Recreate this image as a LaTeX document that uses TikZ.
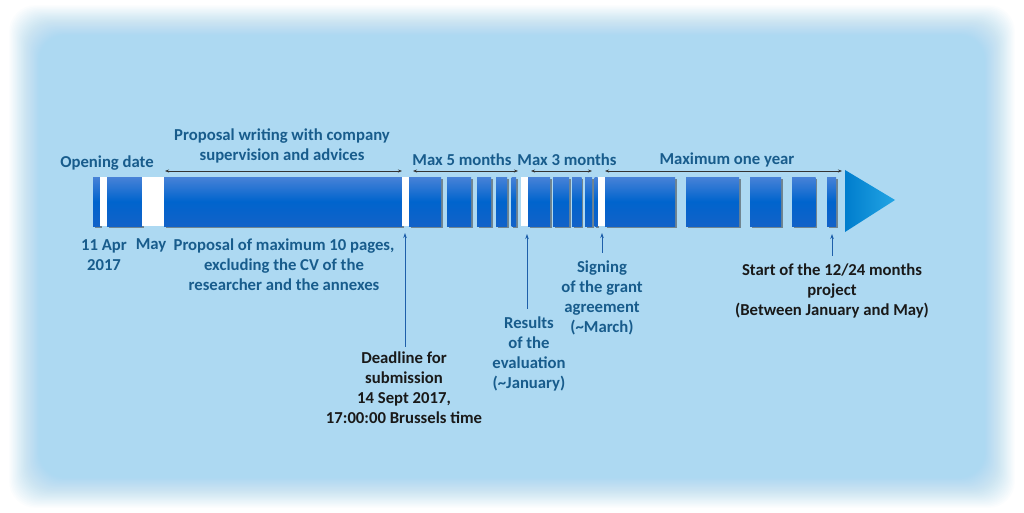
\documentclass[tikz,border=0pt]{standalone}
\usepackage{fontspec}
\setmainfont{Carlito}
\usetikzlibrary{arrows.meta,shadows}
\definecolor{bgblue}{RGB}{173,217,242}
\definecolor{segtop}{RGB}{72,130,215}
\definecolor{segmid}{RGB}{0,100,205}
\definecolor{segbot}{RGB}{18,98,200}
\definecolor{lblue}{RGB}{24,92,140}
\definecolor{arblue}{RGB}{30,95,170}
\definecolor{trileft}{RGB}{0,125,205}
\definecolor{triright}{RGB}{35,165,228}
\tikzset{
  lbl/.style={font=\bfseries\fontsize{16.7}{20}\selectfont, align=center, inner sep=2pt},
  bluelbl/.style={lbl, text=lblue},
  blacklbl/.style={lbl, text=black!90},
  seg/.style={top color=segtop, bottom color=segbot, middle color=segmid,
     drop shadow={shadow xshift=1.5pt, shadow yshift=-1.5pt, opacity=0.55, fill=black!75}},
  wseg/.style={fill=white},
  span/.style={draw=black!80, line width=0.7pt, {Stealth[length=4pt,width=3pt]}-{Stealth[length=4pt,width=3pt]}},
  uparrow/.style={draw=arblue, line width=0.8pt, -{Stealth[length=5pt,width=3.5pt]}}
}
\begin{document}
\begin{tikzpicture}[x=1pt,y=-1pt]
\useasboundingbox (0,0) rectangle (1024,513);
\fill[white] (0,0) rectangle (1024,513);
% soft background: linear fade from white to blue
\foreach \i in {1,...,24} {
  \pgfmathsetmacro{\op}{1/(25-\i)}
  \pgfmathsetmacro{\d}{1.3*\i}
  \fill[bgblue, opacity=\op, rounded corners=26] (8+\d, 4+\d) rectangle (1016-\d, 509-\d);
}
% bar segments
\foreach \a/\b in {93/100,107/142,164/402,409/441,447/471,477/491,496/507,511.5/516,528/550,553/569,572/581.5,585/592,594.5/597.5,605/675,686/739,750/781,792/815.7,827/836} {
  \path[seg] (\a,177) rectangle (\b,226);
}
\foreach \a/\b in {100/107,142/164,402/409,521/528,598/604.5} {
  \fill[wseg] (\a,177) rectangle (\b,226);
}
% arrowhead of the timeline
\shade[left color=trileft, right color=triright] (845,170) -- (895,200) -- (845,232) -- cycle;
% spans
\coordinate (s1a) at (165,171); \coordinate (s1b) at (402,171);
\coordinate (s2a) at (413,171); \coordinate (s2b) at (518,171);
\coordinate (s3a) at (531,171); \coordinate (s3b) at (592,171);
\coordinate (s4a) at (605,171); \coordinate (s4b) at (842,171);
\draw[span] (s1a) -- (s1b);
\draw[span] (s2a) -- (s2b);
\draw[span] (s3a) -- (s3b);
\draw[span] (s4a) -- (s4b);
% top labels
\node[bluelbl] (opening) at (107,163) {Opening date};
\node[bluelbl] (writing) at (282,146) {Proposal writing with company\\supervision and advices};
\node[bluelbl] (max5) at (462,160) {Max 5 months};
\node[bluelbl] (max3) at (567,160) {Max 3 months};
\node[bluelbl] (maxyear) at (727,160) {Maximum one year};
% bottom labels
\node[bluelbl] (apr) at (104,255) {11 Apr\\2017};
\node[bluelbl] (may) at (151,245) {May};
\node[bluelbl] (proposal) at (284,265) {Proposal of maximum 10 pages,\\excluding the CV of the\\researcher and the annexes};
\node[blacklbl] (deadline) at (404,388) {Deadline for\\submission\\14 Sept 2017,\\17:00:00 Brussels time};
\node[bluelbl] (results) at (529,354) {Results\\of the\\evaluation\\(\textasciitilde January)};
\node[bluelbl] (signing) at (602,298) {Signing\\of the grant\\agreement\\(\textasciitilde March)};
\node[blacklbl] (start) at (832,291) {Start of the 12/24 months\\project\\(Between January and May)};
% arrow tips under the bar
\coordinate (tdead) at (405,233);
\coordinate (tres) at (527,234);
\coordinate (tsign) at (602,233);
\coordinate (tstart) at (832,234);
\draw[uparrow] (deadline.north -| tdead) ++(0,-3) -- (tdead);
\draw[uparrow] (results.north -| tres) ++(0,-6) -- (tres);
\draw[uparrow] (signing.north -| tsign) ++(0,-6) -- (tsign);
\draw[uparrow] (start.north -| tstart) ++(0,-6) -- (tstart);
\end{tikzpicture}
\end{document}
